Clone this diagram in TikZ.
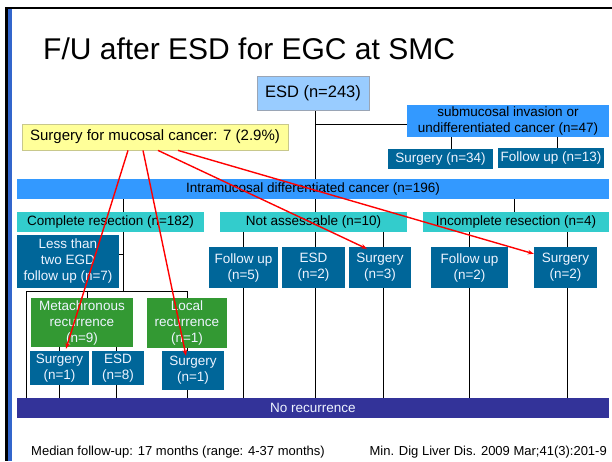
\documentclass[tikz,border=0pt]{standalone}
\usepackage{fontspec}
\setmainfont{Liberation Sans}
\usetikzlibrary{arrows.meta,backgrounds}

\definecolor{rootblue}{HTML}{99CCFF}
\definecolor{rootedge}{HTML}{9AA5B5}
\definecolor{notefill}{HTML}{FFFF99}
\definecolor{noteedge}{HTML}{C8C88C}
\definecolor{midblue}{HTML}{3399FF}
\definecolor{deepblue}{HTML}{006699}
\definecolor{teal}{HTML}{33CCCC}
\definecolor{leafgreen}{HTML}{339933}
\definecolor{navy}{HTML}{333399}
\definecolor{framebar}{HTML}{3366CC}
\definecolor{lighttext}{HTML}{EEF4FF}

\tikzset{
  box/.style={inner sep=0pt, align=center, anchor=center,
              font=\fontsize{13.5}{16}\selectfont},
  rootbox/.style={box, fill=rootblue, draw=rootedge, line width=0.8pt,
                  font=\fontsize{16.5}{19}\selectfont},
  notebox/.style={box, fill=notefill, draw=noteedge, line width=0.8pt,
                  font=\fontsize{15}{18}\selectfont},
  bandbox/.style={box, fill=midblue, text=black},
  groupbox/.style={box, fill=teal, text=black},
  leafbox/.style={box, fill=deepblue, text=lighttext},
  recbox/.style={box, fill=leafgreen, text=lighttext},
  basebox/.style={box, fill=navy, text=lighttext},
  conn/.style={draw=black, line width=0.8pt},
  redarrow/.style={draw=red, line width=1.4pt,
                   -{Stealth[length=6pt,width=4.5pt]}},
}

\begin{document}
\begin{tikzpicture}[x=1pt,y=-1pt]
\useasboundingbox (0,0) rectangle (612,461);

% slide frame
\fill[black] (5,7) rectangle (612,9.2);
\fill[black] (5,7) rectangle (8.2,461);
\fill[framebar] (8.2,9.2) rectangle (12.3,461);

% title
\node[anchor=base west, inner sep=0pt, font=\fontsize{30}{36}\selectfont]
  (title) at (43,59) {F/U after ESD for EGC at SMC};

% top level
\node[rootbox, minimum width=112, minimum height=34] (esd) at (313,93) {ESD (n=243)};
\node[notebox, minimum width=266, minimum height=26] (smc) at (155,137)
  {Surgery for mucosal cancer: 7 (2.9\%)};
\node[bandbox, minimum width=202, minimum height=32] (submuc) at (508,121)
  {submucosal invasion or\\undifferentiated cancer (n=47)};
\node[leafbox, minimum width=105, minimum height=20] (surg34) at (440.5,159) {Surgery (n=34)};
\node[leafbox, minimum width=106, minimum height=20] (fu13) at (551,158) {Follow up (n=13)};

% intramucosal branch
\node[bandbox, minimum width=592, minimum height=20] (intra) at (313,189)
  {Intramucosal differentiated cancer (n=196)};
\node[groupbox, minimum width=187, minimum height=20] (complete) at (110.5,222)
  {Complete resection (n=182)};
\node[groupbox, minimum width=187, minimum height=20] (notass) at (313.5,222)
  {Not assessable (n=10)};
\node[groupbox, minimum width=186, minimum height=20] (incomp) at (516,222)
  {Incomplete resection (n=4)};

% second row
\node[leafbox, minimum width=102, minimum height=53] (fewegd) at (68,261.5)
  {Less than\\two EGD\\follow up (n=7)};
\node[leafbox, minimum width=69, minimum height=41] (fu5) at (243.5,267.5) {Follow up\\(n=5)};
\node[leafbox, minimum width=63, minimum height=41] (esd2) at (313.5,267.5) {ESD\\(n=2)};
\node[leafbox, minimum width=62, minimum height=41] (surg3) at (380,267.5) {Surgery\\(n=3)};
\node[leafbox, minimum width=77, minimum height=41] (fu2) at (469.5,267.5) {Follow up\\(n=2)};
\node[leafbox, minimum width=63, minimum height=41] (surg2) at (565.5,267.5) {Surgery\\(n=2)};

% recurrences
\node[recbox, minimum width=102, minimum height=49] (meta) at (82,322.5)
  {Metachronous\\recurrence\\(n=9)};
\node[recbox, minimum width=80, minimum height=50] (local) at (187,323)
  {Local\\recurrence\\(n=1)};
\node[leafbox, minimum width=59, minimum height=34] (surg1a) at (59.5,368) {Surgery\\(n=1)};
\node[leafbox, minimum width=52, minimum height=34] (esd8) at (118,368) {ESD\\(n=8)};
\node[leafbox, minimum width=62, minimum height=39] (surg1b) at (193,370.5) {Surgery\\(n=1)};

% outcome band
\node[basebox, minimum width=592, minimum height=20] (norec) at (313,408) {No recurrence};

% footer
\node[anchor=base west, inner sep=0pt, font=\fontsize{13}{15}\selectfont]
  (median) at (31,455) {Median follow-up: 17 months (range: 4-37 months)};
\node[anchor=base east, inner sep=0pt, font=\fontsize{13}{15}\selectfont]
  (cite) at (607,455) {Min. Dig Liver Dis. 2009 Mar;41(3):201-9};

% tree connectors, behind the boxes
\begin{pgfonlayer}{background}
  \coordinate (trunk) at (315,0);
  \draw[conn] (esd.south -| trunk) -- (intra.north -| trunk);
  \coordinate (fork) at (315,124);
  \draw[conn] (fork) -- (fork -| submuc.west);
  \coordinate (t34) at (451,0);
  \coordinate (t13) at (557,0);
  \draw[conn] (submuc.south -| t34) -- (surg34.north -| t34);
  \draw[conn] (submuc.south -| t13) -- (fu13.north -| t13);

  % intramucosal to its three groups
  \coordinate (cx) at (123,0);
  \coordinate (ix) at (514,0);
  \draw[conn] (intra.south -| cx) -- (complete.north -| cx);
  \draw[conn] (intra.south -| trunk) -- (notass.north -| trunk);
  \draw[conn] (intra.south -| ix) -- (incomp.north -| ix);

  % complete resection subtree
  \coordinate (split) at (123,291);
  \draw[conn] (complete.south -| cx) -- (split);
  \coordinate (egdtick) at (123,254);
  \draw[conn] (egdtick) -- (egdtick -| fewegd.east);
  \coordinate (lx) at (26,291);
  \coordinate (rx) at (187,291);
  \coordinate (mx) at (87,291);
  \draw[conn] (lx) -- (rx);
  \draw[conn] (lx) -- (lx |- norec.north);
  \draw[conn] (mx) -- (mx |- meta.north);
  \draw[conn] (rx) -- (rx |- local.north);
  \coordinate (ax) at (59,0);
  \coordinate (ex) at (116,0);
  \draw[conn] (meta.south -| ax) -- (norec.north -| ax);
  \draw[conn] (meta.south -| ex) -- (norec.north -| ex);
  \draw[conn] (local.south -| rx) -- (norec.north -| rx);

  % not assessable and incomplete subtrees
  \foreach \px in {243,315,383,469,567} {
    \draw[conn] (\px,232) -- (\px,398);
  }
\end{pgfonlayer}

% surgeries for mucosal cancer
\draw[redarrow] ([xshift=-27pt]smc.south) -- ([xshift=6.5pt,yshift=2pt]surg1a.north);
\draw[redarrow] ([xshift=-12pt]smc.south) -- ([xshift=-7pt,yshift=-5pt]surg1b.north);
\draw[redarrow] ([xshift=3pt]smc.south) -- ([xshift=-13pt,yshift=-2pt]surg3.north);
\draw[redarrow] ([xshift=23pt]smc.south) -- ([yshift=-7pt]surg2.north west);
\end{tikzpicture}
\end{document}
